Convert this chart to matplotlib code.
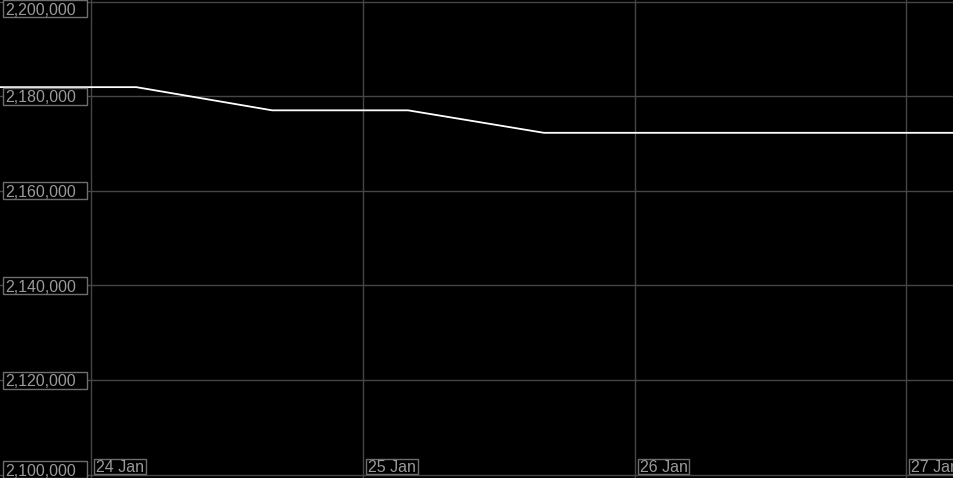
import matplotlib
matplotlib.use("Agg")
import matplotlib.pyplot as plt
import matplotlib.dates as mdates
from matplotlib.patches import Rectangle
from matplotlib.transforms import IdentityTransform
from datetime import datetime

# ---- data ----
times = ["2023-01-23 16:00", "2023-01-24 04:00", "2023-01-24 16:00",
         "2023-01-25 04:00", "2023-01-25 16:00", "2023-01-26 04:00",
         "2023-01-26 16:00", "2023-01-27 04:00", "2023-01-27 16:00"]
values = [2181900, 2181900, 2177000, 2177000, 2172250, 2172250,
          2172250, 2172250, 2172250]
y_ticks = [2100000, 2120000, 2140000, 2160000, 2180000, 2200000]
x_ticks = ["2023-01-24", "2023-01-25", "2023-01-26", "2023-01-27"]
x_tick_labels = ["24 Jan", "25 Jan", "26 Jan", "27 Jan"]

W, H = 953, 478
fig = plt.figure(figsize=(W / 100 + 0.002, H / 100 + 0.002), dpi=100,
                 facecolor="black")
ax = fig.add_axes([0, 0, 1, 1])
ax.set_facecolor("black")
for s in ax.spines.values():
    s.set_visible(False)
ax.set_xticks([])
ax.set_yticks([])

tx = mdates.date2num([datetime.strptime(t, "%Y-%m-%d %H:%M") for t in times])
xt = mdates.date2num([datetime.strptime(t, "%Y-%m-%d") for t in x_ticks])

px_per_day = 271.7
day0 = xt[0]
ax.set_xlim(day0 - 91 / px_per_day, day0 + (W - 91) / px_per_day)
units_per_px = 20000 / 94.6
ax.set_ylim(2200000 - (H - 1.7) * units_per_px, 2200000 + 1.7 * units_per_px)

grid_col = "#464646"
for v in y_ticks:
    ax.axhline(v, color=grid_col, lw=1.0, zorder=1)
for x in xt:
    ax.axvline(x, color=grid_col, lw=1.0, zorder=1)

ax.plot(tx, values, color="white", lw=1.3, zorder=3)

text_col = "#9a9a9a"
edge_col = "#6e6e6e"
font = dict(family=["Liberation Sans", "DejaVu Sans"], size=11.5)
ident = IdentityTransform()

fig.canvas.draw()
renderer = fig.canvas.get_renderer()

# y labels (pixel coords, origin bottom-left)
for v in y_ticks:
    _, yd = ax.transData.transform((xt[0], v))
    yc = min(max(yd, 8.5), H - 8.5)
    rect = Rectangle((3, yc - 8.5), 84, 17, transform=ident, fill=True,
                     facecolor="black", edgecolor=edge_col, lw=1.0, zorder=5)
    fig.patches.append(rect)
    fig.text(5.5, yc, f"{v:,}", transform=ident, color=text_col,
             va="center_baseline", ha="left", zorder=6, **font)

# x labels
for x, lab in zip(xt, x_tick_labels):
    xd, _ = ax.transData.transform((x, y_ticks[0]))
    t = fig.text(xd + 5, 12.0, lab, transform=ident, color=text_col,
                 va="center_baseline", ha="left", zorder=6, **font)
    bb = t.get_window_extent(renderer)
    rect = Rectangle((xd + 3, 4.5), bb.width + 4, 15, transform=ident,
                     fill=True, facecolor="black", edgecolor=edge_col,
                     lw=1.0, zorder=5)
    fig.patches.append(rect)

fig.savefig("out.png", dpi=100, facecolor="black")
